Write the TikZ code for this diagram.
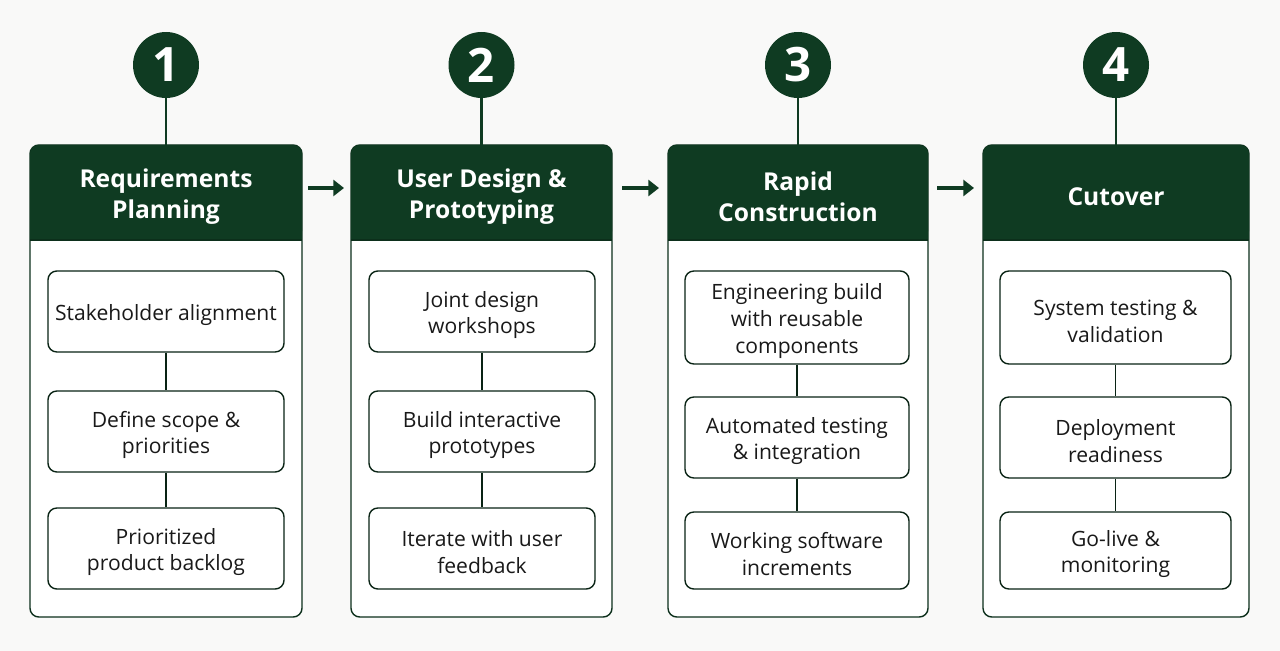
\documentclass[tikz,border=0pt]{standalone}
\usepackage{fontspec}
\setmainfont{Open Sans}
\usetikzlibrary{arrows.meta}
\definecolor{forest}{HTML}{0F3B22}
\definecolor{paper}{HTML}{F9F9F8}
\tikzset{
  panel/.style={draw=forest!80!black, line width=0.8pt, rounded corners=5pt, fill=white},
  head/.style={fill=forest, rounded corners=5pt},
  stepbox/.style={draw=forest!60!black, line width=0.8pt, rounded corners=5pt, fill=white},
  steptext/.style={align=center, font=\fontsize{12}{15.3}\selectfont, text=black!90, yshift=-2pt},
  headtext/.style={align=center, text=white, font=\fontsize{14}{17.5}\selectfont\bfseries, yshift=-2pt},
  badge/.style={circle, fill=forest, minimum size=1.32cm, inner sep=0pt, text=white, font=\fontsize{27}{30}\selectfont\bfseries},
  link/.style={draw=forest, line width=1.6pt},
  flow/.style={draw=forest, line width=2.2pt, -{Triangle[length=6pt,width=9pt]}}
}
\begin{document}
\begin{tikzpicture}[x=0.02cm, y=-0.02cm]
  \fill[paper] (0,0) rectangle (1280,651);
  \useasboundingbox (0,0) rectangle (1280,651);
  % phases: left, right, number, title
  \foreach \l/\r/\n/\t [count=\i] in {
      30/302/1/{Requirements\\Planning},
      351/612/2/{User Design \&\\Prototyping},
      668/928/3/{Rapid\\Construction},
      983/1249/4/{Cutover}}{
    \draw[panel] (\l,145) rectangle (\r,617);
    \fill[head] (\l,145) rectangle (\r,240);
    \fill[forest] (\l,200) rectangle (\r,240);
    \draw[forest!80!black, line width=0.8pt] (\l,240) -- (\r,240);
    \node[headtext] (head\i) at ({(\l+\r)/2},193) {\t};
    \node[badge] (num\i) at ({(\l+\r)/2},65) {\n};
    \coordinate (top\i) at ({(\l+\r)/2},145);
    \draw[link] (num\i) -- (top\i);
  }
  % steps
  \foreach \l/\r/\i in {48/284/1, 369/595/2}{
    \node[stepbox, minimum width={(\r-\l)*0.02cm}, minimum height=1.62cm] (s\i-a) at ({(\l+\r)/2},311.5) {};
    \node[stepbox, minimum width={(\r-\l)*0.02cm}, minimum height=1.62cm] (s\i-b) at ({(\l+\r)/2},431.5) {};
    \node[stepbox, minimum width={(\r-\l)*0.02cm}, minimum height=1.62cm] (s\i-c) at ({(\l+\r)/2},548.5) {};
  }
  \foreach \l/\r/\i in {685/909/3, 1000/1231/4}{
    \node[stepbox, minimum width={(\r-\l)*0.02cm}, minimum height=1.86cm] (s\i-a) at ({(\l+\r)/2},317.5) {};
    \node[stepbox, minimum width={(\r-\l)*0.02cm}, minimum height=1.62cm] (s\i-b) at ({(\l+\r)/2},437.5) {};
    \node[stepbox, minimum width={(\r-\l)*0.02cm}, minimum height=1.54cm] (s\i-c) at ({(\l+\r)/2},550.5) {};
  }
  \node[steptext] at (s1-a) {Stakeholder alignment};
  \node[steptext] at (s1-b) {Define scope \&\\priorities};
  \node[steptext] at (s1-c) {Prioritized\\product backlog};
  \node[steptext] at (s2-a) {Joint design\\workshops};
  \node[steptext] at (s2-b) {Build interactive\\prototypes};
  \node[steptext] at (s2-c) {Iterate with user\\feedback};
  \node[steptext] at (s3-a) {Engineering build\\with reusable\\components};
  \node[steptext] at (s3-b) {Automated testing\\\& integration};
  \node[steptext] at (s3-c) {Working software\\increments};
  \node[steptext] at (s4-a) {System testing \&\\validation};
  \node[steptext] at (s4-b) {Deployment\\readiness};
  \node[steptext] at (s4-c) {Go-live \&\\monitoring};
  \foreach \i in {1,...,4}{
    \draw[forest!60!black, line width=0.8pt] (s\i-a) -- (s\i-b);
    \draw[forest!60!black, line width=0.8pt] (s\i-b) -- (s\i-c);
  }
  % arrows between phases
  \coordinate (a1) at (308,188); \coordinate (b1) at (344,188);
  \coordinate (a2) at (622,188); \coordinate (b2) at (659,188);
  \coordinate (a3) at (937,188); \coordinate (b3) at (974,188);
  \foreach \i in {1,2,3}{\draw[flow] (a\i) -- (b\i);}
\end{tikzpicture}
\end{document}
